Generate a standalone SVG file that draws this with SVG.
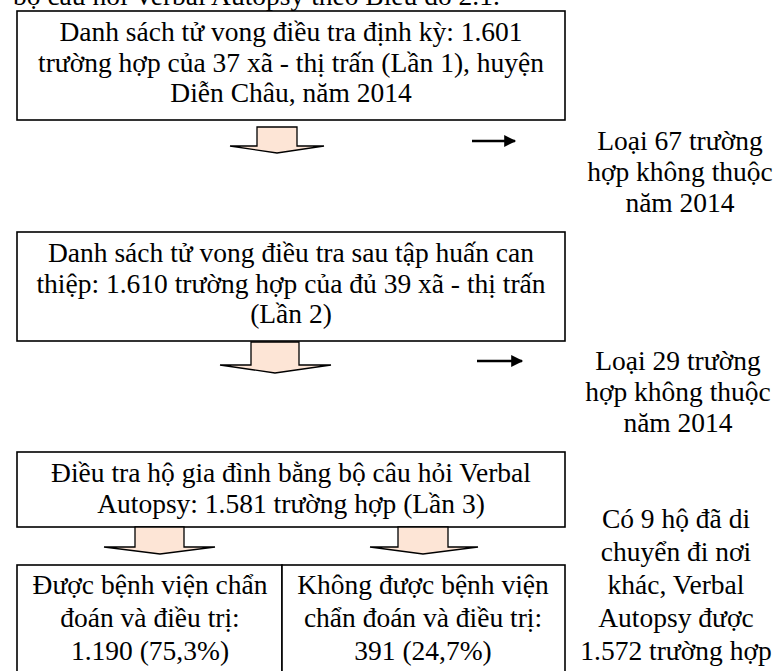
<svg xmlns="http://www.w3.org/2000/svg" width="779" height="671" viewBox="0 0 779 671">
<defs>
<style>
.t{font-family:"Liberation Serif","Times New Roman",serif;font-size:27.5px;fill:#000;}
.c{text-anchor:middle;}
.box{fill:#fff;stroke:#000;stroke-width:1.6;}
.blk{fill:#FDE5D6;stroke:#000;stroke-width:1.3;stroke-linejoin:miter;}
.ln{stroke:#000;stroke-width:2.4;fill:none;}
</style>
<marker id="ah" viewBox="0 0 10 10" refX="9" refY="5" markerWidth="13" markerHeight="12" markerUnits="userSpaceOnUse" orient="auto">
<path d="M0,0 L10,5 L0,10 Z" fill="#000"/>
</marker>
</defs>
<rect width="779" height="671" fill="#fff"/>
<text class="t" x="13" y="5">bộ câu hỏi Verbal Autopsy theo Biểu đồ 2.1.</text>

<g id="node1">
<rect class="box" x="17" y="11" width="548" height="109"/>
<text class="t c" x="291" y="41">Danh sách tử vong điều tra định kỳ: 1.601</text>
<text class="t c" x="291" y="72">trường hợp của 37 xã - thị trấn (Lần 1), huyện</text>
<text class="t c" x="291" y="102">Diễn Châu, năm 2014</text>
</g>

<g id="node2">
<rect class="box" x="17" y="232" width="548" height="109"/>
<text class="t c" x="291" y="262">Danh sách tử vong điều tra sau tập huấn can</text>
<text class="t c" x="291" y="293">thiệp: 1.610 trường hợp của đủ 39 xã - thị trấn</text>
<text class="t c" x="291" y="323">(Lần 2)</text>
</g>

<g id="node3">
<rect class="box" x="17" y="452" width="548" height="75"/>
<text class="t c" x="291" y="482">Điều tra hộ gia đình bằng bộ câu hỏi Verbal</text>
<text class="t c" x="291" y="513">Autopsy: 1.581 trường hợp (Lần 3)</text>
</g>

<g id="node4">
<rect class="box" x="17" y="565" width="265" height="140"/>
<text class="t c" x="150" y="594">Được bệnh viện chẩn</text>
<text class="t c" x="150" y="627">đoán và điều trị:</text>
<text class="t c" x="150" y="660">1.190 (75,3%)</text>
</g>

<g id="node5">
<rect class="box" x="282" y="565" width="283" height="140"/>
<text class="t c" x="423" y="594">Không được bệnh viện</text>
<text class="t c" x="423" y="627">chẩn đoán và điều trị:</text>
<text class="t c" x="423" y="660">391 (24,7%)</text>
</g>

<g id="note1">
<text class="t c" x="680" y="150">Loại 67 trường</text>
<text class="t c" x="680" y="181">hợp không thuộc</text>
<text class="t c" x="680" y="212">năm 2014</text>
</g>

<g id="note2">
<text class="t c" x="678" y="370">Loại 29 trường</text>
<text class="t c" x="678" y="401">hợp không thuộc</text>
<text class="t c" x="678" y="432">năm 2014</text>
</g>

<g id="note3">
<text class="t c" x="676" y="528">Có 9 hộ đã di</text>
<text class="t c" x="676" y="561">chuyển đi nơi</text>
<text class="t c" x="676" y="594">khác, Verbal</text>
<text class="t c" x="676" y="627">Autopsy được</text>
<text class="t c" x="676" y="660">1.572 trường hợp</text>
</g>

<g id="connectors">
<path class="blk" d="M257,127 H297 V146 H324 L277,153 L230,146 H257 Z"/>
<path class="blk" d="M251,342 H299 V365 H331 L275,373 L220,365 H251 Z"/>
<path class="blk" d="M135,527 H184 V547 H215 L160,554 L104,547 H135 Z"/>
<path class="blk" d="M398,527 H448 V547 H478 L423,554 L370,547 H398 Z"/>
<line class="ln" x1="472" y1="141" x2="515" y2="141" marker-end="url(#ah)"/>
<line class="ln" x1="477" y1="361" x2="522" y2="361" marker-end="url(#ah)"/>
</g>
</svg>
